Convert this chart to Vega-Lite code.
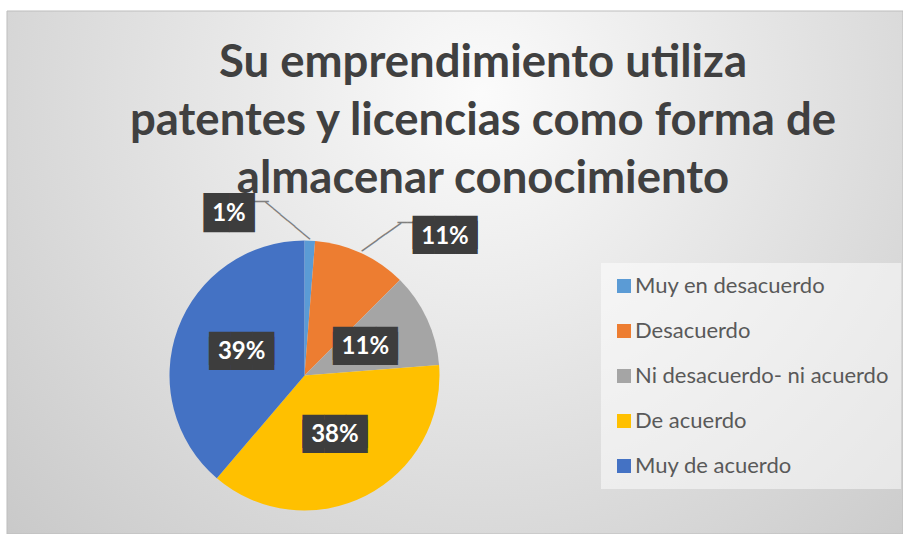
{
  "$schema": "https://vega.github.io/schema/vega-lite/v6.json",
  "autosize": {"type": "none"},
  "padding": {"left": 7, "top": 11, "right": 0, "bottom": 0},
  "width": 896,
  "height": 523,
  "background": "#ffffff",
  "config": {"view": {"stroke": null}},
  "title": {
    "text": ["Su emprendimiento utiliza", "patentes y licencias como forma de", "almacenar conocimiento"],
    "font": "Lato",
    "fontSize": 45.5,
    "fontWeight": "bold",
    "color": "#404040",
    "lineHeight": 58,
    "anchor": "middle",
    "frame": "group",
    "dx": 28,
    "baseline": "top",
    "offset": -192
  },
  "data": {
    "values": [
      {"cat": "Muy en desacuerdo", "ord": 1, "pct": 1.25, "label": "1%"},
      {"cat": "Desacuerdo", "ord": 2, "pct": 11.25, "label": "11%"},
      {"cat": "Ni desacuerdo- ni acuerdo", "ord": 3, "pct": 11.25, "label": "11%"},
      {"cat": "De acuerdo", "ord": 4, "pct": 37.5, "label": "38%"},
      {"cat": "Muy de acuerdo", "ord": 5, "pct": 38.75, "label": "39%"}
    ]
  },
  "layer": [
    {
      "data": {"values": [{}]},
      "mark": {
        "type": "rect",
        "stroke": "#bdbdbd",
        "strokeWidth": 1,
        "fill": {
          "gradient": "radial",
          "x1": 0.53, "y1": 0.3, "r1": 0,
          "x2": 0.53, "y2": 0.3, "r2": 0.8,
          "stops": [
            {"offset": 0, "color": "#fbfbfb"},
            {"offset": 1, "color": "#c4c4c4"}
          ]
        }
      },
      "encoding": {
        "x": {"value": 0},
        "x2": {"value": "width"},
        "y": {"value": 0},
        "y2": {"value": "height"}
      }
    },
    {
      "mark": {"type": "arc", "radius": 135, "x": 297.5, "y": 364.5},
      "encoding": {
        "theta": {"field": "pct", "type": "quantitative", "stack": true},
        "order": {"field": "ord", "type": "quantitative"},
        "color": {
          "field": "cat",
          "type": "nominal",
          "scale": {
            "domain": ["Muy en desacuerdo", "Desacuerdo", "Ni desacuerdo- ni acuerdo", "De acuerdo", "Muy de acuerdo"],
            "range": ["#5B9BD5", "#ED7D31", "#A5A5A5", "#FFC000", "#4472C4"]
          },
          "legend": {
            "title": null,
            "orient": "none",
            "legendX": 594,
            "legendY": 252,
            "symbolType": "square",
            "symbolSize": 196,
            "symbolStrokeWidth": 0,
            "labelFont": "Lato",
            "labelFontSize": 22,
            "labelColor": "#595959",
            "labelOffset": 0,
            "labelLimit": 400,
            "rowPadding": 23,
            "padding": 12,
            "fillColor": "rgba(255,255,255,0.5)"
          }
        }
      }
    },
    {
      "transform": [{"filter": {"field": "ord", "equal": 1}}],
      "mark": {"type": "text", "font": "DejaVu Sans", "fontSize": 16, "color": "#7f7f7f", "x": 297.5, "y": 364.5, "radius": 155.4, "thetaOffset": -0.1492, "angle": 40, "align": "center", "baseline": "middle"},
      "encoding": {"theta": {"field": "pct", "type": "quantitative", "stack": true}, "text": {"value": "──────"}}
    },
    {
      "transform": [{"filter": {"field": "ord", "equal": 1}}],
      "mark": {"type": "text", "font": "DejaVu Sans", "fontSize": 16, "color": "#7f7f7f", "x": 297.5, "y": 364.5, "radius": 179.4, "thetaOffset": -0.2958, "align": "center", "baseline": "middle"},
      "encoding": {"theta": {"field": "pct", "type": "quantitative", "stack": true}, "text": {"value": "──"}}
    },
    {
      "transform": [{"filter": {"field": "ord", "equal": 2}}],
      "mark": {"type": "text", "font": "DejaVu Sans", "fontSize": 16, "color": "#7f7f7f", "x": 297.5, "y": 364.5, "radius": 158.1, "thetaOffset": 0.1562, "angle": -35.4, "align": "center", "baseline": "middle"},
      "encoding": {"theta": {"field": "pct", "type": "quantitative", "stack": true}, "text": {"value": "─────"}}
    },
    {
      "transform": [{"filter": {"field": "ord", "equal": 2}}],
      "mark": {"type": "text", "font": "DejaVu Sans", "fontSize": 16, "color": "#7f7f7f", "x": 297.5, "y": 364.5, "radius": 183.6, "thetaOffset": 0.24, "align": "center", "baseline": "middle"},
      "encoding": {"theta": {"field": "pct", "type": "quantitative", "stack": true}, "text": {"value": "──"}}
    },
    {
      "mark": {"type": "text", "font": "DejaVu Sans", "fontSize": 28, "color": "#3d3d3d", "x": 297.5, "y": 364.5, "radius": 67, "dy": -2.5, "align": "center", "baseline": "middle"},
      "encoding": {
        "theta": {"field": "pct", "type": "quantitative", "stack": true},
        "order": {"field": "ord", "type": "quantitative"},
        "text": {"condition": {"test": "datum.ord > 2", "value": "███"}, "value": ""}
      }
    },
    {
      "mark": {"type": "text", "font": "DejaVu Sans", "fontSize": 28, "color": "#3d3d3d", "x": 297.5, "y": 364.5, "radius": 67, "dy": 2.5, "align": "center", "baseline": "middle"},
      "encoding": {
        "theta": {"field": "pct", "type": "quantitative", "stack": true},
        "order": {"field": "ord", "type": "quantitative"},
        "text": {"condition": {"test": "datum.ord > 2", "value": "███"}, "value": ""}
      }
    },
    {
      "mark": {"type": "text", "font": "Lato", "fontSize": 24, "fontWeight": "bold", "color": "#ffffff", "x": 297.5, "y": 364.5, "radius": 67, "align": "center", "baseline": "middle"},
      "encoding": {
        "theta": {"field": "pct", "type": "quantitative", "stack": true},
        "order": {"field": "ord", "type": "quantitative"},
        "text": {"condition": {"test": "datum.ord > 2", "field": "label"}, "value": ""}
      }
    },
    {
      "transform": [{"filter": {"field": "ord", "equal": 1}}],
      "mark": {"type": "text", "font": "DejaVu Sans", "fontSize": 33, "color": "#3d3d3d", "x": 297.5, "y": 364.5, "radius": 178.7, "thetaOffset": -0.4756, "align": "center", "baseline": "middle"},
      "encoding": {"theta": {"field": "pct", "type": "quantitative", "stack": true}, "text": {"value": "██"}}
    },
    {
      "transform": [{"filter": {"field": "ord", "equal": 1}}],
      "mark": {"type": "text", "font": "Lato", "fontSize": 24, "fontWeight": "bold", "color": "#ffffff", "x": 297.5, "y": 364.5, "radius": 178.7, "thetaOffset": -0.4756, "align": "center", "baseline": "middle"},
      "encoding": {"theta": {"field": "pct", "type": "quantitative", "stack": true}, "text": {"field": "label"}}
    },
    {
      "transform": [{"filter": {"field": "ord", "equal": 2}}],
      "mark": {"type": "text", "font": "DejaVu Sans", "fontSize": 28, "color": "#3d3d3d", "x": 297.5, "y": 364.5, "radius": 197.3, "thetaOffset": 0.439, "dy": -2.5, "align": "center", "baseline": "middle"},
      "encoding": {"theta": {"field": "pct", "type": "quantitative", "stack": true}, "text": {"value": "███"}}
    },
    {
      "transform": [{"filter": {"field": "ord", "equal": 2}}],
      "mark": {"type": "text", "font": "DejaVu Sans", "fontSize": 28, "color": "#3d3d3d", "x": 297.5, "y": 364.5, "radius": 197.3, "thetaOffset": 0.439, "dy": 2.5, "align": "center", "baseline": "middle"},
      "encoding": {"theta": {"field": "pct", "type": "quantitative", "stack": true}, "text": {"value": "███"}}
    },
    {
      "transform": [{"filter": {"field": "ord", "equal": 2}}],
      "mark": {"type": "text", "font": "Lato", "fontSize": 24, "fontWeight": "bold", "color": "#ffffff", "x": 297.5, "y": 364.5, "radius": 197.3, "thetaOffset": 0.439, "align": "center", "baseline": "middle"},
      "encoding": {"theta": {"field": "pct", "type": "quantitative", "stack": true}, "text": {"field": "label"}}
    }
  ]
}
